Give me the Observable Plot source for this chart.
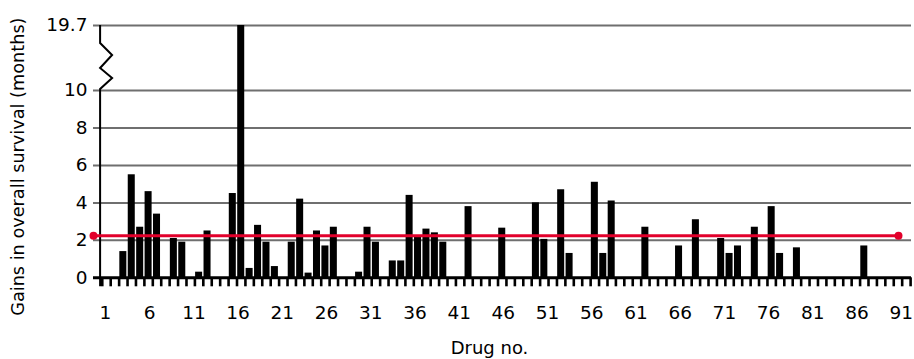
<!DOCTYPE html>
<html><head><meta charset="utf-8">
<script src="https://cdn.jsdelivr.net/npm/d3@7"></script>
<script src="https://cdn.jsdelivr.net/npm/@observablehq/plot@0.6"></script>
<style>body{margin:0;background:#fff} svg{display:block}</style>
</head><body><div id="chart"></div>
<script>
// Drug numbers that show a gain, and the gain in overall survival (months)
const drugNo = [3,4,5,6,7,9,10,12,13,16,17,18,19,20,21,23,24,25,26,27,28,31,32,33,35,36,37,38,39,40,41,44,48,52,53,55,56,59,60,61,65,69,71,74,75,76,78,80,81,83,91];
const gain   = [1.4,5.5,2.7,4.6,3.4,2.1,1.9,0.3,2.5,4.5,19.7,0.5,2.8,1.9,0.6,1.9,4.2,0.25,2.5,1.7,2.7,0.3,2.7,1.9,0.9,0.9,4.4,2.2,2.6,2.4,1.9,3.8,2.65,4.0,2.05,4.7,1.3,5.1,1.3,4.1,2.7,1.7,3.1,2.1,1.3,1.7,2.7,3.8,1.3,1.6,1.7];
const meanGain = 2.25;
const yTicks = [0,2,4,6,8,10,19.7];
const xTickLabels = [1,6,11,16,21,26,31,36,41,46,51,56,61,66,71,76,81,86,91];
const slotEdges = d3.range(0.5, 97, 1);
const yTitle = "Gains in overall survival (months)";
const xTitle = "Drug no.";

const data = drugNo.map((d, i) => ({drug: d, gain: gain[i]}));
const FONT = "DejaVu Sans";
const RED = "#e2002b";
const xDomain = [0.3, 96.5];

const yAxisLine = (index, scales, values, dims) => {
  const ax = scales.x(xDomain[0]);
  const yt = scales.y(19.7), y10 = scales.y(10);
  const yb = dims.height - dims.marginBottom + 9;
  const pts = [[ax, yt], [ax, yt + 18], [ax + 12, yt + 30], [ax, yt + 43], [ax + 12, yt + 53], [ax, y10 - 1], [ax, yb]];
  const g = d3.create("svg:g");
  g.append("path").attr("d", d3.line()(pts)).attr("fill", "none")
    .attr("stroke", "black").attr("stroke-width", 2).attr("stroke-linejoin", "miter");
  return g.node();
};

const main = Plot.plot({
  width: 914, height: 295,
  marginLeft: 93, marginRight: 3, marginTop: 25, marginBottom: 17.7,
  style: {fontFamily: FONT, background: "white", color: "black", overflow: "visible"},
  x: {type: "linear", domain: xDomain, range: [100.1, 910.1]},
  y: {type: "linear", domain: [0, 10, 19.7], range: [277.3, 90, 25]},
  marks: [
    Plot.ruleY(yTicks.filter(v => v > 0), {stroke: "#6f6f6f", strokeWidth: 2}),
    Plot.rectY(data, {x1: d => d.drug - 0.5, x2: d => d.drug + 0.5, y1: 0, y2: "gain",
      insetLeft: 0.7, insetRight: 0.7, fill: "black"}),
    Plot.ruleY([0], {stroke: "black", strokeWidth: 3}),
    Plot.axisX({ticks: slotEdges, tickSize: 9, tickFormat: () => "", strokeWidth: 2.6, stroke: "black", label: null}),
    yAxisLine,
    Plot.ruleY([meanGain], {stroke: RED, strokeWidth: 3, insetRight: 13}),
    Plot.dot([meanGain], {y: d => d, frameAnchor: "left", r: 4, fill: RED}),
    Plot.dot([meanGain], {y: d => d, frameAnchor: "right", dx: -13, r: 4, fill: RED}),
    Plot.axisY({ticks: yTicks, tickSize: 0, tickPadding: 6, fontSize: 18.5, label: null, tickFormat: d => String(d)}),
    Plot.text([yTitle], {frameAnchor: "left", textAnchor: "middle", lineAnchor: "middle", rotate: -90, dx: -75, dy: 15, fontSize: 17.7, fill: "black"})
  ]
});

const bottom = Plot.plot({
  width: 914, height: 64,
  marginLeft: 64, marginRight: 0, marginTop: 0, marginBottom: 0,
  style: {fontFamily: FONT, background: "white", color: "black", overflow: "visible"},
  x: {type: "linear", domain: [1, 91], range: [105, 900.7], axis: null},
  marks: [
    Plot.text(xTickLabels, {x: d => d, text: d => String(d), frameAnchor: "top", lineAnchor: "middle", dy: 18, fontSize: 18.5, fill: "black"}),
    Plot.text([xTitle], {frameAnchor: "bottom", lineAnchor: "middle", dy: -11, fontSize: 18, fill: "black"})
  ]
});

const el = document.getElementById("chart");
el.appendChild(main);
el.appendChild(bottom);
</script>
</body></html>
